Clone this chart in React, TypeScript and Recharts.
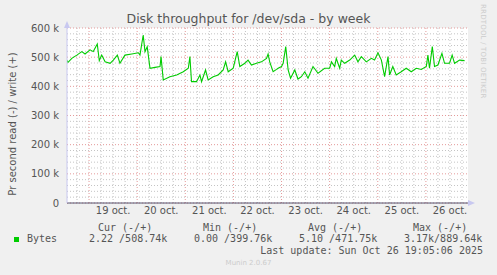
import React from 'react';
import { LineChart, Line, XAxis, YAxis, CartesianGrid } from 'recharts';

// hours since 19 oct 00:00
const hours = [
  -11.1, -10.5, -8.6, -6.1, -3.6, -2.0, 0.5, 2.1, 4.1, 5.1, 6.3, 8.0, 10.5, 12.1, 14.1, 15.4, 17.9, 21.3,
  24.6, 25.4, 27.0, 27.9, 29.0, 30.4, 32.9, 35.4, 35.9, 37.0, 40.3, 43.7, 47.0, 49.5, 50.3, 51.1, 53.6,
  55.3, 56.1, 58.1, 59.4, 61.9, 64.4, 66.9, 68.1, 69.4, 71.9, 73.9, 75.2, 77.7, 79.3, 81.0, 83.5, 86.0,
  88.5, 89.3, 90.1, 91.8, 93.5, 94.3, 96.0, 96.8, 98.1, 99.3, 100.5, 102.6, 104.2, 105.9, 107.6, 109.2,
  111.7, 114.2, 117.5, 120.0, 120.9, 122.5, 123.3, 125.0, 125.8, 127.5, 130.0, 132.5, 134.1, 135.8,
  138.3, 140.8, 142.4, 144.1, 145.8, 147.4, 149.1, 149.9, 151.5, 153.2, 155.7, 158.2, 160.7, 163.2,
  165.7, 168.2, 169.0, 169.8, 171.2, 172.3, 174.0, 176.0, 177.3, 179.8, 181.1, 182.3, 184.8, 187.3,
];

// write bytes/s, in k
const writeK = [
  490, 482, 496, 507, 519, 511, 525, 519, 545, 488, 507, 484, 479, 490, 507, 479, 507, 511, 515, 507,
  576, 519, 536, 462, 465, 468, 502, 422, 433, 439, 450, 462, 502, 416, 416, 439, 416, 456, 422, 433,
  439, 456, 484, 450, 462, 519, 468, 479, 490, 473, 479, 484, 496, 511, 484, 450, 458, 462, 468, 479,
  536, 456, 428, 456, 425, 433, 450, 428, 468, 445, 462, 462, 484, 468, 496, 462, 490, 479, 490, 507,
  484, 502, 484, 496, 490, 515, 490, 433, 502, 439, 468, 439, 450, 462, 450, 462, 458, 468, 507, 462,
  536, 468, 473, 513, 479, 479, 507, 479, 490, 488,
];

const dayTicks = [12, 36, 60, 84, 108, 132, 156, 180];
const dayLabels = ['19 oct.', '20 oct.', '21 oct.', '22 oct.', '23 oct.', '24 oct.', '25 oct.', '26 oct.'];
const midnights = [0, 24, 48, 72, 96, 120, 144, 168];
const yTicks = [0, 100000, 200000, 300000, 400000, 500000, 600000];

const legendHead = ['Cur (-/+)', 'Min (-/+)', 'Avg (-/+)', 'Max (-/+)'];
const legendVals = ['2.22 /508.74k', '0.00 /399.76k', '5.10 /471.75k', '3.17k/889.64k'];

const X_DOMAIN = [-11, 189];
const Y_MAX = 600000;

const data = hours.map((h, i) => ({ h, write: writeK[i] * 1000 }));
const minorX = Array.from({ length: 34 }, (_, i) => -6 + i * 6).filter((v) => v % 24 !== 0);
const minorY = Array.from({ length: 30 }, (_, i) => i * 20000).filter((v) => v % 100000 !== 0);

// grid helpers: map grid values to pixels inside the plot box
const gridY = (vals: number[]) => ({ offset }: any) =>
  vals.map((v) => offset.top + offset.height * (1 - v / Y_MAX));
const gridX = (vals: number[]) => ({ offset }: any) =>
  vals.map((v) => offset.left + (offset.width * (v - X_DOMAIN[0])) / (X_DOMAIN[1] - X_DOMAIN[0]));

const sans = '"DejaVu Sans", Verdana, sans-serif';
const mono = '"DejaVu Sans Mono", monospace';

export default function App() {
  const colX = [89, 194, 299, 404];
  return (
    <div style={{ position: 'absolute', left: 0, top: 0, width: 497, height: 275, background: '#f0f0f0', fontFamily: sans }}>
      <div style={{ position: 'absolute', left: 0, width: 497, top: 11, textAlign: 'center', fontSize: 12.5, color: '#555' }}>
        Disk throughput for /dev/sda - by week
      </div>
      <div style={{ position: 'absolute', left: 12, top: 124, transform: 'translate(-50%,-50%) rotate(-90deg)', whiteSpace: 'nowrap', fontSize: 10, color: '#555' }}>
        Pr second read (-) / write (+)
      </div>
      <div style={{ position: 'absolute', left: 487, top: 4, transformOrigin: '0 0', transform: 'rotate(90deg)', whiteSpace: 'nowrap', fontSize: 7, color: '#ccc', letterSpacing: 0.2 }}>
        RRDTOOL / TOBI OETIKER
      </div>
      <LineChart width={497} height={275} data={data} margin={{ top: 28, right: 29, left: 7, bottom: 42 }} style={{ position: 'absolute', left: 0, top: 0 }}>
        <CartesianGrid
          horizontalCoordinatesGenerator={gridY(minorY)}
          verticalCoordinatesGenerator={gridX(minorX)}
          stroke="#c4c4c4"
          strokeDasharray="1 2"
          fill="#fff"
          fillOpacity={1}
        />
        <CartesianGrid
          horizontalCoordinatesGenerator={gridY(yTicks)}
          verticalCoordinatesGenerator={gridX(midnights)}
          stroke="#e49a9a"
          strokeDasharray="1 2"
        />
        <XAxis
          dataKey="h"
          type="number"
          domain={X_DOMAIN}
          ticks={dayTicks}
          tickFormatter={(v) => dayLabels[dayTicks.indexOf(v)]}
          tickLine={false}
          tickSize={2}
          tickMargin={2}
          height={30}
          axisLine={{ stroke: '#555570' }}
          tick={{ fill: '#555', fontSize: 10, fontFamily: sans }}
          allowDataOverflow
        />
        <YAxis
          type="number"
          domain={[0, Y_MAX]}
          ticks={yTicks}
          tickFormatter={(v) => (v === 0 ? '0' : `${v / 1000} k`)}
          tickLine={false}
          width={60}
          axisLine={{ stroke: '#c8c8f0' }}
          tick={{ fill: '#555', fontSize: 10, fontFamily: sans }}
        />
        <Line type="linear" dataKey="write" stroke="#00cc00" strokeWidth={1.1} dot={false} isAnimationActive={false} />
      </LineChart>
      <svg width={497} height={275} style={{ position: 'absolute', left: 0, top: 0, pointerEvents: 'none' }}>
        <polygon points="64,28 70,28 67,21" fill="#c8c8f0" />
        <polygon points="468,200 468,206 475,203" fill="#c8c8f0" />
      </svg>
      {legendHead.map((t, i) => (
        <div key={t} style={{ position: 'absolute', left: colX[i] + 9, top: 222, fontFamily: mono, fontSize: 10, color: '#555', whiteSpace: 'pre' }}>
          {t}
        </div>
      ))}
      <div style={{ position: 'absolute', left: 14, top: 237, width: 5, height: 5, background: '#00cc00' }} />
      <div style={{ position: 'absolute', left: 27, top: 233, fontFamily: mono, fontSize: 10, color: '#555' }}>Bytes</div>
      {legendVals.map((t, i) => (
        <div key={t} style={{ position: 'absolute', left: colX[i], top: 233, fontFamily: mono, fontSize: 10, color: '#555', whiteSpace: 'pre' }}>
          {t}
        </div>
      ))}
      <div style={{ position: 'absolute', right: 14, top: 245, fontFamily: mono, fontSize: 10, color: '#555', whiteSpace: 'pre' }}>
        Last update: Sun Oct 26 19:05:06 2025
      </div>
      <div style={{ position: 'absolute', left: 0, width: 497, top: 259, textAlign: 'center', fontSize: 7, color: '#ccc' }}>
        Munin 2.0.67
      </div>
    </div>
  );
}
